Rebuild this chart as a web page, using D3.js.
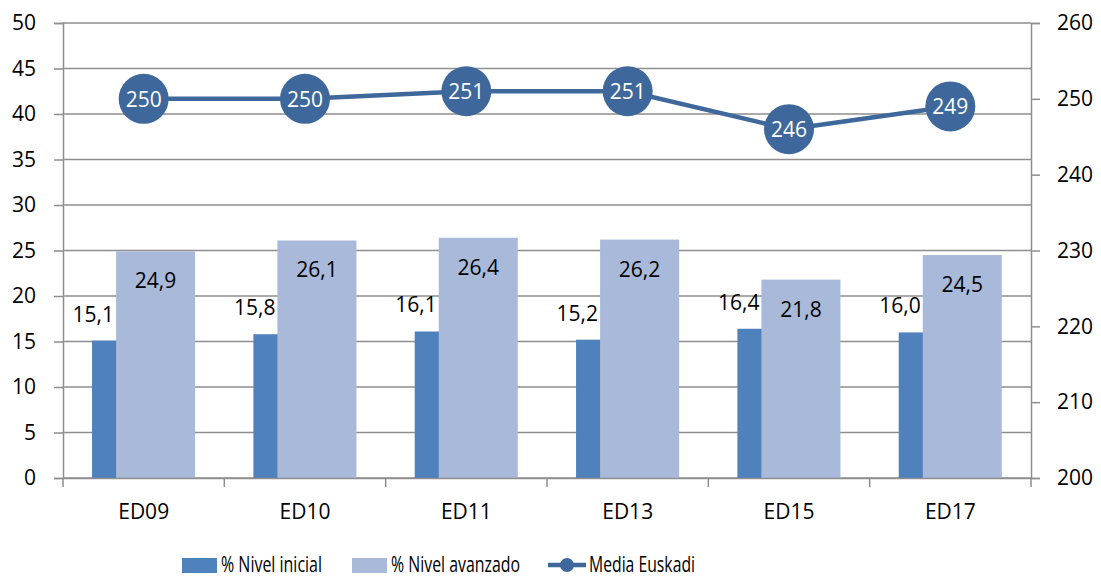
<!DOCTYPE html>
<html>
<head>
<meta charset="utf-8">
<script src="https://cdn.jsdelivr.net/npm/d3@7"></script>
<style>
  body { margin: 0; background: #fff; }
  text { font-family: "Open Sans", sans-serif; }
</style>
</head>
<body>
<div id="chart"></div>
<script>
var svgWidth = 1101;
var svgHeight = 580;

var margin = { top: 23, right: 70, bottom: 102, left: 63 };

var width = svgWidth - margin.left - margin.right;
var height = svgHeight - margin.top - margin.bottom;

// data
var categories = ["ED09", "ED10", "ED11", "ED13", "ED15", "ED17"];
var nivelInicial = [15.1, 15.8, 16.1, 15.2, 16.4, 16.0];
var nivelAvanzado = [24.9, 26.1, 26.4, 26.2, 21.8, 24.5];
var mediaEuskadi = [250, 250, 251, 251, 246, 249];
var leftTicks = [0, 5, 10, 15, 20, 25, 30, 35, 40, 45, 50];
var rightTicks = [200, 210, 220, 230, 240, 250, 260];
var seriesNames = ["% Nivel inicial", "% Nivel avanzado", "Media Euskadi"];

var darkBlue = "#4f81bd";
var lightBlue = "#a9b9d9";
var lineBlue = "#3e689b";
var gridColor = "#8e8e8e";

var fmt = function(v) { return v.toFixed(1).replace(".", ","); };

var svg = d3.select("#chart")
  .append("svg")
  .attr("width", svgWidth)
  .attr("height", svgHeight);

var chartGroup = svg.append("g")
  .attr("transform", `translate(${margin.left}, ${margin.top})`);

// scales
var xScale = d3.scaleBand()
  .domain(categories)
  .range([0, width]);

var yLeft = d3.scaleLinear()
  .domain([0, 50])
  .range([height, 0]);

var yRight = d3.scaleLinear()
  .domain([200, 260])
  .range([height, 0]);

var bw = xScale.bandwidth();
var barWidth = bw * 0.49;
var darkOffset = bw * 0.18;
var lightOffset = bw * 0.329;

// gridlines
chartGroup.append("g")
  .selectAll("line")
  .data(leftTicks)
  .enter()
  .append("line")
  .attr("x1", 0)
  .attr("x2", width)
  .attr("y1", d => yLeft(d))
  .attr("y2", d => yLeft(d))
  .attr("stroke", gridColor)
  .attr("stroke-width", 1.5);

// bars
chartGroup.selectAll(".bar-ini")
  .data(nivelInicial)
  .enter()
  .append("rect")
  .attr("class", "bar-ini")
  .attr("x", (d, i) => xScale(categories[i]) + darkOffset)
  .attr("y", d => yLeft(d))
  .attr("width", barWidth)
  .attr("height", d => height - yLeft(d))
  .attr("fill", darkBlue);

chartGroup.selectAll(".bar-ava")
  .data(nivelAvanzado)
  .enter()
  .append("rect")
  .attr("class", "bar-ava")
  .attr("x", (d, i) => xScale(categories[i]) + lightOffset)
  .attr("y", d => yLeft(d))
  .attr("width", barWidth)
  .attr("height", d => height - yLeft(d))
  .attr("fill", lightBlue);

// bar labels
chartGroup.selectAll(".lab-ini")
  .data(nivelInicial)
  .enter()
  .append("text")
  .attr("x", (d, i) => xScale(categories[i]) + lightOffset - 2)
  .attr("y", d => yLeft(d) - 19)
  .attr("text-anchor", "end")
  .style("font-size", "21px")
  .style("fill", "#000")
  .text(d => fmt(d));

chartGroup.selectAll(".lab-ava")
  .data(nivelAvanzado)
  .enter()
  .append("text")
  .attr("x", (d, i) => xScale(categories[i]) + lightOffset + barWidth / 2)
  .attr("y", d => yLeft(d) + 37)
  .attr("text-anchor", "middle")
  .style("font-size", "21px")
  .style("fill", "#000")
  .text(d => fmt(d));

// axes
var leftAxis = d3.axisLeft(yLeft).tickValues(leftTicks).tickSize(9).tickPadding(18);
var rightAxis = d3.axisRight(yRight).tickValues(rightTicks).tickSize(9).tickPadding(17);
var bottomAxis = d3.axisBottom(xScale).tickSize(0).tickPadding(26);

function styleAxis(g) {
  g.select(".domain").attr("stroke", gridColor).attr("stroke-width", 1.5);
  g.selectAll(".tick line").attr("stroke", gridColor).attr("stroke-width", 1.5);
  g.selectAll("text")
    .style("font-family", "'Open Sans', sans-serif")
    .style("font-size", "21px")
    .style("fill", "#000");
}

chartGroup.append("g").call(leftAxis).call(styleAxis);

chartGroup.append("g")
  .attr("transform", `translate(${width}, 0)`)
  .call(rightAxis).call(styleAxis);

var xAxis = chartGroup.append("g")
  .attr("transform", `translate(0, ${height})`)
  .call(bottomAxis).call(styleAxis);

// category separators below the baseline
chartGroup.append("g")
  .selectAll("line")
  .data(categories.concat(["end"]))
  .enter()
  .append("line")
  .attr("x1", (d, i) => i * bw)
  .attr("x2", (d, i) => i * bw)
  .attr("y1", height)
  .attr("y2", height + 9)
  .attr("stroke", gridColor)
  .attr("stroke-width", 1.5);

// line series
var line = d3.line()
  .x((d, i) => xScale(categories[i]) + bw / 2)
  .y(d => yRight(d));

chartGroup.append("path")
  .datum(mediaEuskadi)
  .attr("d", line)
  .attr("fill", "none")
  .attr("stroke", lineBlue)
  .attr("stroke-width", 4.5);

chartGroup.selectAll(".marker")
  .data(mediaEuskadi)
  .enter()
  .append("circle")
  .attr("cx", (d, i) => xScale(categories[i]) + bw / 2)
  .attr("cy", d => yRight(d))
  .attr("r", 25)
  .attr("fill", lineBlue);

chartGroup.selectAll(".mlab")
  .data(mediaEuskadi)
  .enter()
  .append("text")
  .attr("x", (d, i) => xScale(categories[i]) + bw / 2)
  .attr("y", d => yRight(d) + 8)
  .attr("text-anchor", "middle")
  .style("font-size", "21px")
  .style("fill", "#fff")
  .text(d => d);

// legend (reference font is narrow, so text is fitted to its width)
var legend = svg.append("g");
var legendY = 565;   // swatch centre
var textY = 572;     // text baseline

legend.append("rect")
  .attr("x", 182).attr("y", legendY - 7)
  .attr("width", 35).attr("height", 15)
  .attr("fill", darkBlue);
legend.append("text")
  .attr("x", 221).attr("y", textY)
  .attr("textLength", 101)
  .attr("lengthAdjust", "spacingAndGlyphs")
  .style("font-size", "22px")
  .text(seriesNames[0]);

legend.append("rect")
  .attr("x", 352).attr("y", legendY - 7)
  .attr("width", 35).attr("height", 15)
  .attr("fill", lightBlue);
legend.append("text")
  .attr("x", 391).attr("y", textY)
  .attr("textLength", 129)
  .attr("lengthAdjust", "spacingAndGlyphs")
  .style("font-size", "22px")
  .text(seriesNames[1]);

legend.append("line")
  .attr("x1", 548).attr("x2", 586)
  .attr("y1", legendY).attr("y2", legendY)
  .attr("stroke", lineBlue)
  .attr("stroke-width", 4.5);
legend.append("circle")
  .attr("cx", 567).attr("cy", legendY)
  .attr("r", 7)
  .attr("fill", lineBlue);
legend.append("text")
  .attr("x", 589).attr("y", textY)
  .attr("textLength", 106)
  .attr("lengthAdjust", "spacingAndGlyphs")
  .style("font-size", "22px")
  .text(seriesNames[2]);
</script>
</body>
</html>
